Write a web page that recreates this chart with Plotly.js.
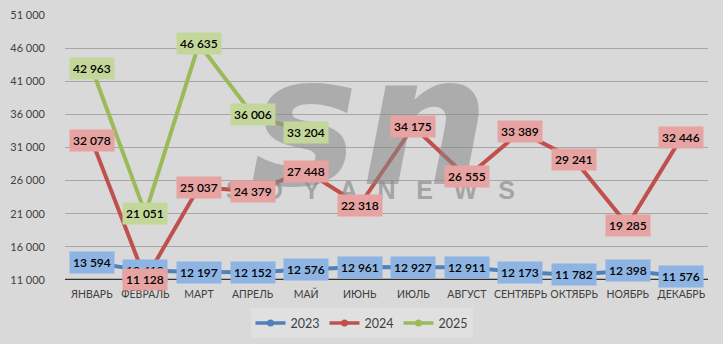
<!DOCTYPE html>
<html><head><meta charset="utf-8">
<script src="https://cdn.plot.ly/plotly-3.0.1.min.js"></script>
<style>html,body{margin:0;padding:0;background:#d9d9d9}#c{width:723px;height:344px}</style>
</head><body><div id="c"></div>
<script>
const months = ["ЯНВАРЬ","ФЕВРАЛЬ","МАРТ","АПРЕЛЬ","МАЙ","ИЮНЬ","ИЮЛЬ","АВГУСТ","СЕНТЯБРЬ","ОКТЯБРЬ","НОЯБРЬ","ДЕКАБРЬ"];
const v2023 = [13594,12418,12197,12152,12576,12961,12927,12911,12173,11782,12398,11576];
const v2024 = [32078,11128,25037,24379,27448,22318,34175,26555,33389,29241,19285,32446];
const v2025 = [42963,21051,46635,36006,33204];
const yTicks = [11000,16000,21000,26000,31000,36000,41000,46000,51000];

const series = [
  {name:"2023", y:v2023, line:"#4f81bd", box:"#8db4e2"},
  {name:"2024", y:v2024, line:"#c0504d", box:"#e6a3a1"},
  {name:"2025", y:v2025, line:"#9bbb59", box:"#c4d79b"}
];
const fmt = n => String(n).replace(/\B(?=(\d{3})+(?!\d))/g, " ");

const traces = [];
series.forEach(s => traces.push({
  type:"scatter", mode:"lines+markers", name:s.name, showlegend:false,
  x: months.slice(0, s.y.length), y: s.y,
  line:{color:s.line, width:4},
  marker:{color:s.line, size:19},
  cliponaxis:false
}));
series.forEach(s => traces.push({
  type:"scatter", mode:"lines+markers", name:s.name, showlegend:true,
  x:[null], y:[null], line:{color:s.line, width:3.5}, marker:{color:s.line, size:7}
}));

const wm = "rgba(135,135,135,0.55)";
const annotations = [
  {x:0.475, y:0.34, xref:"paper", yref:"paper", text:"S   O   Y   A   N   E   W   S", showarrow:false,
   font:{family:"Liberation Sans", size:25, color:"rgba(140,140,140,0.7)", weight:700}},
  {x:0.372, y:0.6, xref:"paper", yref:"paper", text:"<i>s</i>", showarrow:false,
   font:{family:"DejaVu Sans", size:180, color:wm, weight:600}},
  {x:0.56, y:0.6, xref:"paper", yref:"paper", text:"<i>n</i>", showarrow:false,
   font:{family:"DejaVu Sans", size:180, color:wm, weight:600}}
];
series.forEach(s => s.y.forEach((v,i) => annotations.push({
  x: months[i], y: v, xref:"x", yref:"y", text: fmt(v), showarrow:false,
  bgcolor: s.box, borderpad: 3, font:{family:"Lato, Open Sans, sans-serif", size:12, color:"#000", weight:600}
})));

const layout = {
  width:723, height:344,
  paper_bgcolor:"#d9d9d9", plot_bgcolor:"#d9d9d9",
  margin:{l:65, r:15, t:15, b:64, autoexpand:false},
  separators:". ",
  showlegend:true,
  legend:{orientation:"h", x:0.5, xanchor:"center", xref:"container", yref:"container", y:0.06, yanchor:"middle",
    bgcolor:"#e0e0e0", font:{family:"Lato, sans-serif", size:12.5, color:"#404040"}, itemwidth:30},
  xaxis:{type:"category", showgrid:false, zeroline:false, showline:false, ticks:"", tickangle:0, automargin:false,
    ticklabelstandoff:6,
    tickfont:{family:"Lato, Open Sans, sans-serif", size:10.5, color:"#404040"}, range:[-0.5,11.5]},
  yaxis:{range:[11000,51000], tickvals:yTicks, tickformat:",d", showgrid:true, gridcolor:"#a6a6a6", gridwidth:1,
    zeroline:false, showline:false, ticks:"", automargin:false, ticklabelstandoff:19,
    tickfont:{family:"Lato, Open Sans, sans-serif", size:11, color:"#404040"}},
  shapes:[
    {type:"line", xref:"paper", yref:"y", x0:0, x1:1, y0:11000, y1:11000, line:{color:"#333", width:2.5}, layer:"below"},
    {type:"rect", xref:"container", yref:"container", x0:0.003, x1:0.997, y0:0.005, y1:0.995, line:{color:"#b5b5b5", width:1}, fillcolor:"rgba(0,0,0,0)"}
  ],
  annotations: annotations
};
Plotly.newPlot("c", traces, layout, {displayModeBar:false, staticPlot:true});
</script></body></html>
